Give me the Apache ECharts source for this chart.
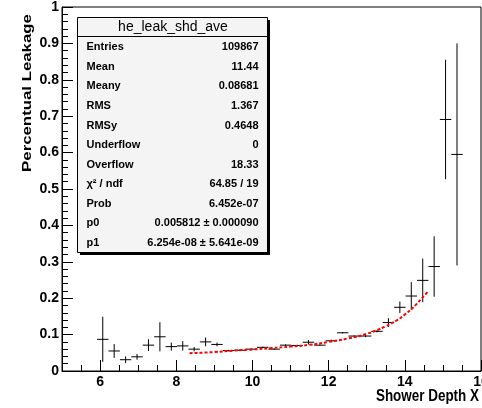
<!DOCTYPE html>
<html>
<head>
<meta charset="utf-8">
<script src="https://cdn.jsdelivr.net/npm/echarts@6/dist/echarts.min.js"></script>
<style>
  html, body { margin: 0; padding: 0; background: #fff; }
  #chart { width: 482px; height: 408px; }
</style>
</head>
<body>
<div id="chart"></div>
<script>
// profile bins: centre, mean value, error
var binX = [6.07, 6.37, 6.67, 6.97, 7.27, 7.57, 7.87, 8.17, 8.47, 8.77, 9.07, 9.37,
  9.67, 9.97, 10.27, 10.57, 10.87, 11.17, 11.47, 11.77, 12.07, 12.37, 12.67, 12.97,
  13.27, 13.57, 13.87, 14.17, 14.47, 14.77, 15.07, 15.37];
var binY = [0.087, 0.055, 0.031, 0.039, 0.071, 0.094, 0.067, 0.069, 0.060, 0.080, 0.073, 0.056,
  0.057, 0.060, 0.065, 0.060, 0.071, 0.070, 0.079, 0.071, 0.083, 0.105, 0.096, 0.096,
  0.109, 0.133, 0.175, 0.206, 0.249, 0.287, 0.691, 0.595];
var binErr = [0.062, 0.019, 0.009, 0.008, 0.016, 0.040, 0.011, 0.013, 0.006, 0.012, 0.005, 0.002,
  0.002, 0.002, 0.002, 0.002, 0.002, 0.002, 0.006, 0.002, 0.003, 0.002, 0.002, 0.003,
  0.003, 0.012, 0.016, 0.038, 0.060, 0.083, 0.164, 0.305];
var binHalfWidth = 0.15;

// fitted curve
var fitX = [8.35, 9.0, 9.5, 10.0, 10.5, 11.0, 11.5, 12.0, 12.5, 13.0, 13.5, 13.8, 14.0, 14.3, 14.6];
var fitY = [0.049, 0.052, 0.056, 0.059, 0.063, 0.067, 0.072, 0.080, 0.089, 0.102, 0.123, 0.140, 0.155, 0.183, 0.218];

// axis labels
var xLabelValues = [6, 8, 10, 12, 14, 16];

// stats box
var statTitle = "he_leak_shd_ave";
var statNames = ["Entries", "Mean", "Meany", "RMS", "RMSy", "Underflow", "Overflow",
  "\u03c7\u00b2 / ndf", "Prob", "p0", "p1"];
var statValues = ["109867", "11.44", "0.08681", "1.367", "0.4648", "0", "18.33",
  "64.85 / 19", "6.452e-07", "0.005812 \u00b1 0.000090", "6.254e-08 \u00b1 5.641e-09"];

var FONT = "'Liberation Sans', Arial, Helvetica, sans-serif";

var barData = binX.map(function (x, i) { return [x, binY[i], binErr[i]]; });
var fitData = fitX.map(function (x, i) { return [x, fitY[i]]; });

function renderErrorBar(params, api) {
  var x = api.value(0), y = api.value(1), e = api.value(2);
  var l = api.coord([x - binHalfWidth, y]);
  var r = api.coord([x + binHalfWidth, y]);
  var t = api.coord([x, y + e]);
  var b = api.coord([x, y - e]);
  return {
    type: "group",
    children: [
      { type: "line", shape: { x1: l[0], y1: l[1], x2: r[0], y2: r[1] }, style: { stroke: "#000", lineWidth: 1 } },
      { type: "line", shape: { x1: t[0], y1: t[1], x2: b[0], y2: b[1] }, style: { stroke: "#000", lineWidth: 1 } }
    ]
  };
}

// stats box drawn as graphic elements
var box = { x: 77.5, y: 17.5, w: 190, h: 235 };
var graphics = [
  { type: "rect", shape: { x: box.x + 2.5, y: box.y + 2.5, width: box.w, height: box.h }, style: { fill: "#000" }, z: 10 },
  { type: "rect", shape: { x: box.x, y: box.y, width: box.w, height: box.h }, style: { fill: "#f4f4f4", stroke: "#000", lineWidth: 1 }, z: 11 },
  { type: "line", shape: { x1: box.x, y1: 36.5, x2: box.x + box.w, y2: 36.5 }, style: { stroke: "#000", lineWidth: 1 }, z: 12 },
  { type: "text", x: 173, y: 27, z: 12, style: { text: statTitle, font: "14px " + FONT, fill: "#000", align: "center", verticalAlign: "middle" } },
  // axis titles
  { type: "text", x: 28, y: 93, rotation: Math.PI / 2, scaleX: 1.4, z: 12,
    style: { text: "Percentual Leakage", font: "bold 12px " + FONT, fill: "#000", align: "center", verticalAlign: "middle" } },
  { type: "text", x: 479, y: 396.5, scaleX: 0.84, z: 12,
    style: { text: "Shower Depth X", font: "bold 16px " + FONT, fill: "#000", align: "right", verticalAlign: "middle" } }
];
statNames.forEach(function (name, i) {
  var yy = 47.3 + i * 19.57;
  graphics.push({ type: "text", x: 86.5, y: yy, z: 12, style: { text: name, font: "bold 11px " + FONT, fill: "#000", align: "left", verticalAlign: "middle" } });
  graphics.push({ type: "text", x: 258.5, y: yy, z: 12, style: { text: statValues[i], font: "bold 11px " + FONT, fill: "#000", align: "right", verticalAlign: "middle" } });
});

var myChart = echarts.init(document.getElementById("chart"));
var option = {
  animation: false,
  grid: {
    left: 62, right: 1, top: 7, bottom: 37,
    outerBoundsMode: "none",
    show: true, borderColor: "#000", borderWidth: 1, backgroundColor: "#fff"
  },
  xAxis: [
    {
      type: "value", min: 5, max: 16, interval: 0.5,
      axisLine: { show: true, lineStyle: { color: "#000", width: 1 } },
      axisTick: { show: true, inside: true, length: 6, lineStyle: { color: "#000" } },
      axisLabel: { show: false },
      splitLine: { show: false }
    },
    {
      type: "value", min: 5, max: 16, position: "bottom",
      axisLine: { show: false },
      axisTick: { show: true, inside: true, length: 11, customValues: xLabelValues, lineStyle: { color: "#000" } },
      axisLabel: {
        show: true, customValues: xLabelValues, margin: 4, hideOverlap: false,
        color: "#000", fontFamily: FONT, fontWeight: "bold", fontSize: 14
      },
      splitLine: { show: false }
    }
  ],
  yAxis: [
    {
      type: "value", min: 0, max: 1, interval: 0.1,
      axisLine: { show: true, lineStyle: { color: "#000", width: 1 } },
      axisTick: { show: true, inside: true, length: 11, lineStyle: { color: "#000" } },
      minorTick: { show: true, splitNumber: 5, length: 6, lineStyle: { color: "#000" } },
      axisLabel: { margin: 3, color: "#000", fontFamily: FONT, fontWeight: "bold", fontSize: 14 },
      splitLine: { show: false }
    }
  ],
  series: [
    {
      type: "custom",
      xAxisIndex: 0, yAxisIndex: 0,
      renderItem: renderErrorBar,
      encode: { x: 0, y: 1 },
      data: barData,
      z: 3
    },
    {
      type: "line",
      xAxisIndex: 0, yAxisIndex: 0,
      data: fitData,
      smooth: true,
      showSymbol: false,
      lineStyle: { color: "#ff0000", width: 2, type: [3, 2] },
      z: 4
    }
  ],
  graphic: graphics
};
myChart.setOption(option);
</script>
</body>
</html>
